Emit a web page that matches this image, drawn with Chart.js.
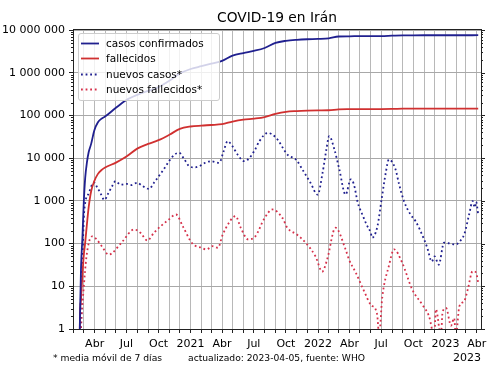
<!DOCTYPE html>
<html>
<head>
<meta charset="utf-8">
<script src="https://cdn.jsdelivr.net/npm/chart.js@4.4.1/dist/chart.umd.min.js"></script>
<style>
    body { margin: 0; background: #fff; font-family: 'DejaVu Sans', sans-serif; color: #000; }
    #wrap { position: relative; width: 500px; height: 375px; overflow: hidden; }
    #chart { position: absolute; left: 0; top: 0; }
    #title { position: absolute; left: 73px; width: 408px; top: 8px; text-align: center; font-size: 13.8px; line-height: 18px; }
    #legend { position: absolute; left: 78px; top: 33px; width: 140px; height: 66px; border: 1px solid #cccccc; border-radius: 3px; background: rgba(255,255,255,0.8); font-size: 10.5px; }
    #legend .row { position: absolute; left: 0; height: 15px; line-height: 15px; white-space: nowrap; }
    #legend svg { position: absolute; left: 2px; top: 5px; }
    #legend span { position: absolute; left: 27px; top: 0; }
    .foot { position: absolute; top: 352px; font-size: 9.2px; line-height: 12px; white-space: nowrap; }
    #year { position: absolute; top: 351px; right: 19px; font-size: 11px; line-height: 14px; }
</style>
</head>
<body>
<div id="wrap">
    <canvas id="chart" width="500" height="375"></canvas>
    <div id="title">COVID-19 en Irán</div>
    <div id="legend"></div>
    <div class="foot" style="left:53px">* media móvil de 7 días</div>
    <div class="foot" style="left:188px">actualizado: 2023-04-05, fuente: WHO</div>
    <div id="year">2023</div>
</div>
<script>
// ========== datos ==========

const totalDates = ['2020-02-18', '2020-02-19', '2020-02-22', '2020-02-26', '2020-03-01', '2020-03-05', '2020-03-10',
    '2020-03-15', '2020-03-22', '2020-03-31', '2020-04-10', '2020-04-20', '2020-05-01', '2020-06-01', '2020-07-01',
    '2020-08-01', '2020-09-01', '2020-10-01', '2020-11-01', '2020-12-01', '2021-01-01', '2021-02-01', '2021-03-01',
    '2021-04-01', '2021-05-01', '2021-06-01', '2021-07-01', '2021-08-01', '2021-09-01', '2021-10-01', '2021-11-01',
    '2021-12-01', '2022-01-01', '2022-02-01', '2022-03-01', '2022-04-01', '2022-05-01', '2022-06-01', '2022-07-01',
    '2022-08-01', '2022-09-01', '2022-10-01', '2022-11-01', '2022-12-01', '2023-01-01', '2023-02-01', '2023-03-01',
    '2023-04-05'];

const totalCases = [0.5, 2, 28, 139, 978, 3513, 8042, 13938, 21638, 44605, 68192, 83505, 94640, 151466, 230211,
    304204, 375212, 461044, 647008, 962070, 1225142, 1430000, 1640000, 1900000, 2520000, 2900000, 3250000, 3800000,
    5000000, 5600000, 5920000, 6100000, 6200000, 6400000, 7080000, 7160000, 7225000, 7235000, 7240000, 7400000,
    7540000, 7555000, 7560000, 7562000, 7563000, 7565000, 7568000, 7580000];

const totalDeaths = [0.5, 2, 5, 19, 54, 107, 291, 724, 1685, 2898, 4232, 5209, 6028, 7878, 10958, 16766, 21571,
    26380, 35298, 48628, 55223, 58000, 59900, 62600, 72000, 80000, 84500, 91800, 109000, 122000, 127000, 129800,
    131400, 132600, 138800, 140700, 141200, 141350, 141400, 142300, 144000, 144500, 144600, 144650, 144700, 144750,
    144850, 144900];

const newCaseDates = ['2020-02-19', '2020-02-22', '2020-02-26', '2020-03-01', '2020-03-05', '2020-03-15', '2020-03-30',
    '2020-04-08', '2020-04-18', '2020-04-29', '2020-05-10', '2020-05-21', '2020-05-31', '2020-06-14', '2020-07-01',
    '2020-07-15', '2020-08-01', '2020-08-17', '2020-09-04', '2020-09-17', '2020-10-02', '2020-10-16', '2020-10-31',
    '2020-11-15', '2020-11-29', '2020-12-12', '2020-12-28', '2021-01-12', '2021-01-26', '2021-02-12', '2021-02-28',
    '2021-03-24', '2021-04-05', '2021-04-17', '2021-05-01', '2021-05-16', '2021-06-04', '2021-06-18', '2021-07-03',
    '2021-07-17', '2021-08-10', '2021-09-03', '2021-10-06', '2021-10-30', '2021-11-20', '2021-12-10', '2021-12-31',
    '2022-01-14', '2022-01-25', '2022-02-02', '2022-02-17', '2022-03-03', '2022-03-21', '2022-04-05', '2022-04-14',
    '2022-04-25', '2022-05-08', '2022-05-20', '2022-06-01', '2022-06-05', '2022-06-20', '2022-07-03', '2022-07-14',
    '2022-07-23', '2022-08-11', '2022-08-21', '2022-09-04', '2022-09-23', '2022-10-08', '2022-11-01', '2022-11-10',
    '2022-11-23', '2022-12-01', '2022-12-13', '2022-12-28', '2023-01-15', '2023-01-31', '2023-02-10', '2023-02-24',
    '2023-03-10', '2023-03-20', '2023-03-26', '2023-03-30', '2023-04-05'];

const newCases = [0.5, 8, 40, 400, 900, 1500, 2700, 2100, 1500, 1050, 1500, 2200, 2900, 2400, 2500, 2350, 2650, 2200,
    1900, 2600, 3800, 5500, 8500, 12000, 13400, 10000, 6500, 6100, 6500, 7800, 8500, 7800, 14000, 25000, 19000, 12000,
    8500, 10000, 15000, 25000, 39000, 30000, 12000, 9300, 5000, 2700, 1400, 4500, 16000, 33000, 16000, 5500, 1400,
    3200, 2400, 900, 480, 280, 180, 137, 250, 1200, 4500, 9300, 5500, 2500, 1000, 480, 330, 125, 80, 38, 50, 32, 105,
    100, 95, 110, 165, 480, 990, 700, 950, 480];

const newDeathDates = ['2020-02-20', '2020-02-24', '2020-03-01', '2020-03-08', '2020-03-16', '2020-03-25', '2020-04-07',
    '2020-04-20', '2020-05-12', '2020-05-22', '2020-06-20', '2020-07-23', '2020-08-10', '2020-08-30', '2020-09-18',
    '2020-10-31', '2020-11-20', '2020-12-10', '2021-01-06', '2021-02-01', '2021-02-15', '2021-03-05', '2021-03-20',
    '2021-04-03', '2021-04-20', '2021-05-01', '2021-05-10', '2021-05-25', '2021-06-15', '2021-07-06', '2021-07-30',
    '2021-08-23', '2021-09-21', '2021-10-05', '2021-11-02', '2021-11-27', '2021-12-25', '2022-01-13', '2022-01-27',
    '2022-02-20', '2022-03-21', '2022-03-31', '2022-04-19', '2022-05-13', '2022-06-01', '2022-06-15', '2022-06-20',
    '2022-06-25', '2022-07-04', '2022-07-23', '2022-08-07', '2022-08-30', '2022-09-28', '2022-10-27', '2022-11-15',
    '2022-11-30', '2022-12-05', '2022-12-19', '2022-12-24', '2023-01-03', '2023-01-17', '2023-01-26', '2023-01-31',
    '2023-02-10', '2023-02-24', '2023-03-06', '2023-03-20', '2023-03-30', '2023-04-05'];

const newDeaths = [0.5, 2, 10, 45, 110, 148, 125, 90, 55, 61, 113, 214, 180, 118, 180, 370, 480, 250, 100, 80, 73, 87,
    80, 162, 300, 400, 440, 230, 125, 150, 370, 630, 400, 235, 162, 104, 50, 22, 42, 235, 73, 42, 21, 7.7, 3.7, 2.9, 2,
    0.7, 5.4, 30, 73, 36, 8.4, 3.7, 2.0, 0.7, 2.9, 0.7, 2.5, 3.1, 1.2, 1.8, 0.7, 3.4, 4.5, 8.4, 22.6, 21, 12];

const yTicks = [1, 10, 100, 1000, 10000, 100000, 1000000, 10000000];
const monthNames = ['Ene', 'Feb', 'Mar', 'Abr', 'May', 'Jun', 'Jul', 'Ago', 'Sep', 'Oct', 'Nov', 'Dic'];

const COLORS = {
    cases: '#20208f',
    deaths: '#d03030',
    newDeaths: '#d6304a',
    grid: '#b8b8b8',
    frame: '#222222'
};

// ========== utilidades ==========

const DAY0 = Date.UTC(2020, 0, 1);
const X_MIN = 29;
const X_MAX = 1198;

function dayIndex(s) {
    const p = s.split('-');
    return (Date.UTC(+p[0], +p[1] - 1, +p[2]) - DAY0) / 86400000;
}

function toPoints(dates, values) {
    return dates.map((d, i) => ({ x: dayIndex(d), y: values[i] }));
}

function fmtThousands(v) {
    return String(Math.round(v)).replace(/\B(?=(\d{3})+(?!\d))/g, ' ');
}

const monthTicks = [];
for (let yr = 2020; yr <= 2023; yr++) {
    for (let m = 0; m < 12; m++) {
        const d = (Date.UTC(yr, m, 1) - DAY0) / 86400000;
        if (d >= X_MIN && d <= X_MAX) monthTicks.push(d);
    }
}

function xLabel(value) {
    const dt = new Date(DAY0 + value * 86400000);
    const m = dt.getUTCMonth();
    if (m === 0) return String(dt.getUTCFullYear());
    if (m === 3 || m === 6 || m === 9) return monthNames[m];
    return '';
}

// ========== leyenda ==========

const legendItems = [
    { label: 'casos confirmados', color: COLORS.cases, dash: '' },
    { label: 'fallecidos', color: COLORS.deaths, dash: '' },
    { label: 'nuevos casos*', color: COLORS.cases, dash: '1.8 2.8' },
    { label: 'nuevos fallecidos*', color: COLORS.newDeaths, dash: '1.8 2.8' }
];

const legendEl = document.getElementById('legend');
legendItems.forEach((item, i) => {
    const row = document.createElement('div');
    row.className = 'row';
    row.style.top = (2 + i * 15.3) + 'px';
    row.innerHTML =
        '<svg width="18" height="5"><line x1="0" y1="2.5" x2="18" y2="2.5" stroke="' + item.color +
        '" stroke-width="1.8"' + (item.dash ? ' stroke-dasharray="' + item.dash + '"' : '') + '/></svg>' +
        '<span>' + item.label + '</span>';
    legendEl.appendChild(row);
});

// ========== marco y marcas menores ==========

const framePlugin = {
    id: 'framePlugin',
    afterDraw(chart) {
        const { ctx, chartArea: a, scales } = chart;
        const y = scales.y;
        ctx.save();
        ctx.strokeStyle = COLORS.frame;
        ctx.lineWidth = 1;
        ctx.beginPath();
        ctx.moveTo(a.left, a.top + 0.5);
        ctx.lineTo(a.right + 1, a.top + 0.5);
        ctx.moveTo(a.right + 0.5, a.top);
        ctx.lineTo(a.right + 0.5, a.bottom);
        for (let k = 0; k < 7; k++) {
            for (let m = 1; m <= 9; m++) {
                const v = m * Math.pow(10, k);
                const py = Math.round(y.getPixelForValue(v)) + 0.5;
                const len = m === 1 ? 4 : 2;
                if (m > 1) {
                    ctx.moveTo(a.left - len, py);
                    ctx.lineTo(a.left, py);
                }
                ctx.moveTo(a.right, py);
                ctx.lineTo(a.right + len, py);
            }
        }
        const top = Math.round(y.getPixelForValue(1e7)) + 0.5;
        ctx.moveTo(a.right, top);
        ctx.lineTo(a.right + 4, top);
        ctx.stroke();
        ctx.restore();
    }
};

// ========== gráfico ==========

Chart.defaults.font.family = "'DejaVu Sans', sans-serif";
Chart.defaults.font.size = 11;
Chart.defaults.color = '#000';

function lineDataset(label, data, color, dotted) {
    return {
        label: label,
        data: data,
        borderColor: color,
        backgroundColor: color,
        borderWidth: 1.8,
        borderDash: dotted ? [1.8, 2.8] : [],
        borderCapStyle: 'butt',
        pointRadius: 0,
        cubicInterpolationMode: 'monotone',
        fill: false
    };
}

function zeroPadding(s) {
    s.paddingLeft = 0;
    s.paddingRight = 0;
    s.paddingTop = 0;
    s.paddingBottom = 0;
}

new Chart(document.getElementById('chart'), {
    type: 'line',
    data: {
        datasets: [
            lineDataset('casos confirmados', toPoints(totalDates, totalCases), COLORS.cases, false),
            lineDataset('fallecidos', toPoints(totalDates, totalDeaths), COLORS.deaths, false),
            lineDataset('nuevos casos*', toPoints(newCaseDates, newCases), COLORS.cases, true),
            lineDataset('nuevos fallecidos*', toPoints(newDeathDates, newDeaths), COLORS.newDeaths, true)
        ]
    },
    options: {
        responsive: false,
        animation: false,
        devicePixelRatio: 1,
        layout: {
            padding: { top: 29, right: 19, bottom: 0, left: 0 }
        },
        plugins: {
            legend: { display: false },
            title: { display: false },
            tooltip: { enabled: false }
        },
        scales: {
            x: {
                type: 'linear',
                min: X_MIN,
                max: X_MAX,
                afterBuildTicks: s => { s.ticks = monthTicks.map(v => ({ value: v })); },
                afterFit: s => { s.height = 46; zeroPadding(s); },
                ticks: {
                    autoSkip: false,
                    maxRotation: 0,
                    padding: 5,
                    callback: xLabel
                },
                grid: {
                    color: COLORS.grid,
                    lineWidth: 1,
                    tickLength: 4,
                    tickColor: COLORS.frame
                },
                border: { color: COLORS.frame, width: 1 }
            },
            y: {
                type: 'logarithmic',
                min: 1,
                max: 1.06e7,
                afterBuildTicks: s => { s.ticks = yTicks.map(v => ({ value: v })); },
                afterFit: s => { s.width = 73; zeroPadding(s); },
                ticks: {
                    autoSkip: false,
                    padding: 4,
                    callback: v => fmtThousands(v)
                },
                grid: {
                    color: '#a8a8a8',
                    lineWidth: 1,
                    tickLength: 4,
                    tickColor: COLORS.frame
                },
                border: { color: COLORS.frame, width: 1 }
            }
        }
    },
    plugins: [framePlugin]
});
</script>
</body>
</html>
